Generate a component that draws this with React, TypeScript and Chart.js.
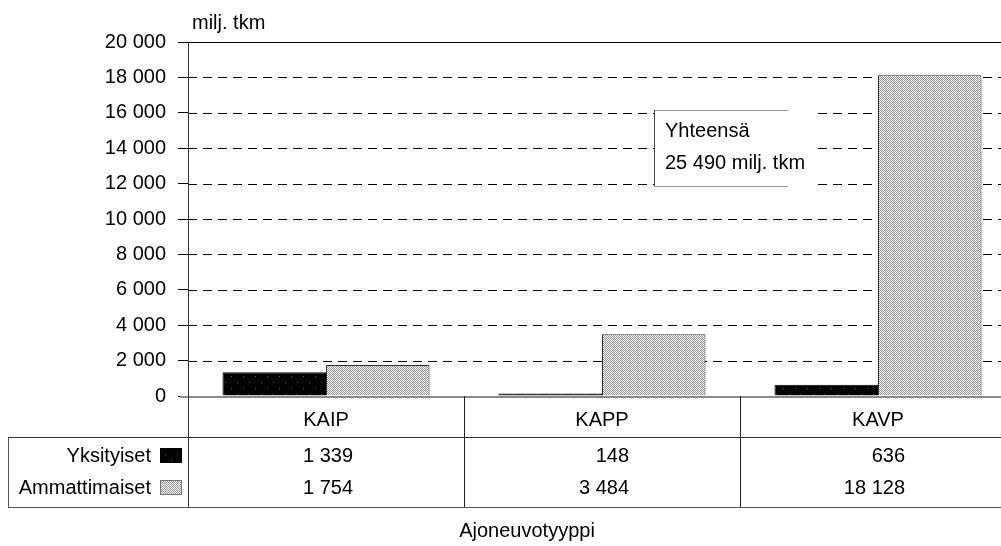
import React, { useEffect, useRef } from 'react';
import { Chart, registerables } from 'chart.js';

Chart.register(...registerables);

const categories = ['KAIP', 'KAPP', 'KAVP'];
const seriesNames = ['Yksityiset', 'Ammattimaiset'];
const yksityiset = [1339, 148, 636];
const ammattimaiset = [1754, 3484, 18128];
const yMin = 0;
const yMax = 20000;
const yStep = 2000;
const unitLabel = 'milj. tkm';
const xTitle = 'Ajoneuvotyyppi';
const noteLines = ['Yhteensä', '25 490 milj. tkm'];

const FAMILY = '"Liberation Sans", Arial, Helvetica, sans-serif';
const FONT = `20px ${FAMILY}`;

const fmt = (v: number) => String(v).replace(/\B(?=(\d{3})+(?!\d))/g, ' ');

function makePattern(size: number, draw: (g: CanvasRenderingContext2D) => void) {
  const c = document.createElement('canvas');
  c.width = size;
  c.height = size;
  const g = c.getContext('2d')!;
  draw(g);
  const tmp = document.createElement('canvas').getContext('2d')!;
  return tmp.createPattern(c, 'repeat')!;
}

const blackPattern = () =>
  makePattern(12, (g) => {
    g.fillStyle = '#020202';
    g.fillRect(0, 0, 12, 12);
    g.fillStyle = '#5a5a5a';
    g.fillRect(3, 4, 1, 1);
    g.fillRect(9, 10, 1, 1);
  });

const grayPattern = () =>
  makePattern(4, (g) => {
    g.fillStyle = '#f6f6f6';
    g.fillRect(0, 0, 4, 4);
    g.fillStyle = '#9a9a9a';
    for (let x = 0; x < 4; x++)
      for (let y = 0; y < 4; y++) if ((x + y) % 2 === 0) g.fillRect(x, y, 1, 1);
    g.fillStyle = '#d4d4d4';
    g.fillRect(1, 2, 1, 1);
  });

const decorPlugin = {
  id: 'decor',
  beforeDatasetsDraw(chart: any) {
    const { ctx, chartArea: a, scales } = chart;
    const y = scales.y;
    ctx.save();
    ctx.lineWidth = 1;
    y.ticks.forEach((t: any) => {
      if (t.value === yMin) return;
      const py = Math.round(y.getPixelForValue(t.value)) + 0.5;
      ctx.beginPath();
      ctx.strokeStyle = '#000';
      ctx.setLineDash(t.value === yMax ? [] : [9, 6]);
      ctx.moveTo(a.left, py);
      ctx.lineTo(a.right, py);
      ctx.stroke();
    });
    ctx.restore();
  },
  afterDraw(chart: any) {
    const { ctx, chartArea: a, scales } = chart;
    const x = scales.x;
    const n = categories.length;
    const colW = (a.right - a.left) / n;
    const b = a.bottom;
    const tableTop = b + 41;
    const tableBottom = b + 111;
    const rowY = [b + 60, b + 92];
    ctx.save();

    // zero line
    ctx.strokeStyle = '#8a8a8a';
    ctx.lineWidth = 2;
    ctx.setLineDash([]);
    ctx.beginPath();
    ctx.moveTo(a.left - 8, b + 1);
    ctx.lineTo(a.right, b + 1);
    ctx.stroke();

    // y axis line
    ctx.lineWidth = 1;
    ctx.strokeStyle = '#3a3a3a';
    ctx.beginPath();
    ctx.moveTo(a.left + 0.5, a.top);
    ctx.lineTo(a.left + 0.5, tableBottom);
    ctx.stroke();

    // column dividers
    ctx.strokeStyle = '#222';
    for (let i = 1; i < n; i++) {
      const px = Math.round(a.left + colW * i) + 0.5;
      ctx.beginPath();
      ctx.moveTo(px, b);
      ctx.lineTo(px, tableBottom);
      ctx.stroke();
    }

    // table horizontal lines
    ctx.strokeStyle = '#333';
    ctx.beginPath();
    ctx.moveTo(8, tableTop + 0.5);
    ctx.lineTo(a.right, tableTop + 0.5);
    ctx.stroke();
    ctx.strokeStyle = '#555';
    ctx.beginPath();
    ctx.moveTo(8, tableBottom + 0.5);
    ctx.lineTo(a.right, tableBottom + 0.5);
    ctx.moveTo(8.5, tableTop);
    ctx.lineTo(8.5, tableBottom);
    ctx.stroke();

    // category labels
    ctx.fillStyle = '#000';
    ctx.font = FONT;
    ctx.textBaseline = 'middle';
    ctx.textAlign = 'center';
    categories.forEach((c, i) => {
      ctx.fillText(c, x.getPixelForValue(i), b + 24);
    });

    // row labels + swatches
    const series = [yksityiset, ammattimaiset];
    const swatchFill = [chart.data.datasets[0].backgroundColor, chart.data.datasets[1].backgroundColor];
    seriesNames.forEach((name, r) => {
      ctx.textAlign = 'right';
      ctx.fillStyle = '#000';
      ctx.fillText(name, 151, rowY[r]);
      ctx.fillStyle = swatchFill[r];
      ctx.fillRect(160, rowY[r] - 8, 22, 15);
      ctx.strokeStyle = r === 0 ? '#000' : '#777';
      ctx.strokeRect(160.5, rowY[r] - 7.5, 21, 14);
      ctx.fillStyle = '#000';
      series[r].forEach((v, i) => {
        ctx.fillText(fmt(v), x.getPixelForValue(i) + 27, rowY[r]);
      });
    });

    // unit label
    ctx.textAlign = 'left';
    ctx.fillText(unitLabel, 192, 23);

    // x title
    ctx.textAlign = 'center';
    ctx.fillText(xTitle, 527, 531);

    // annotation box
    const bx = 654, by = 110, bw = 164, bh = 76;
    ctx.fillStyle = '#fff';
    ctx.fillRect(bx, by, bw, bh);
    ctx.strokeStyle = '#999';
    ctx.beginPath();
    ctx.moveTo(bx, by + 0.5);
    ctx.lineTo(bx + bw - 30, by + 0.5);
    ctx.moveTo(bx, by + bh + 0.5);
    ctx.lineTo(bx + bw - 30, by + bh + 0.5);
    ctx.stroke();
    ctx.strokeStyle = '#444';
    ctx.beginPath();
    ctx.moveTo(bx + 0.5, by);
    ctx.lineTo(bx + 0.5, by + bh);
    ctx.stroke();
    ctx.fillStyle = '#000';
    ctx.textAlign = 'left';
    ctx.fillText(noteLines[0], 665, 131);
    ctx.fillText(noteLines[1], 665, 163);

    ctx.restore();
  },
};

export default function App() {
  const ref = useRef<HTMLCanvasElement>(null);
  useEffect(() => {
    if (!ref.current) return;
    const chart = new Chart(ref.current, {
      type: 'bar',
      data: {
        labels: categories,
        datasets: [
          {
            label: seriesNames[0],
            data: yksityiset,
            backgroundColor: blackPattern() as any,
            borderColor: '#000',
            borderWidth: 1,
            categoryPercentage: 0.75,
            barPercentage: 1,
          },
          {
            label: seriesNames[1],
            data: ammattimaiset,
            backgroundColor: grayPattern() as any,
            borderColor: '#333',
            borderWidth: 1,
            categoryPercentage: 0.75,
            barPercentage: 1,
          },
        ],
      },
      options: {
        responsive: false,
        animation: false,
        devicePixelRatio: 1,
        layout: { padding: { top: 42, bottom: 150, left: 0, right: 0 } },
        plugins: { legend: { display: false }, tooltip: { enabled: false } },
        scales: {
          x: { display: false, offset: true },
          y: {
            min: yMin,
            max: yMax,
            ticks: {
              stepSize: yStep,
              color: '#000',
              font: { family: FAMILY, size: 20 },
              padding: 12,
              callback: (v: any) => fmt(Number(v)),
            },
            grid: { drawOnChartArea: false, tickLength: 10, tickColor: '#000', tickWidth: 1 },
            border: { display: false },
            afterFit: (s: any) => {
              s.width = 188;
            },
          },
        },
      },
      plugins: [decorPlugin],
    });
    return () => chart.destroy();
  }, []);
  return (
    <div
      style={{
        position: 'absolute',
        left: 0,
        top: 0,
        width: 1001,
        height: 546,
        overflow: 'hidden',
        background: '#fff',
      }}
    >
      <canvas ref={ref} width={1016} height={546} style={{ display: 'block', width: 1016, height: 546 }} />
    </div>
  );
}
